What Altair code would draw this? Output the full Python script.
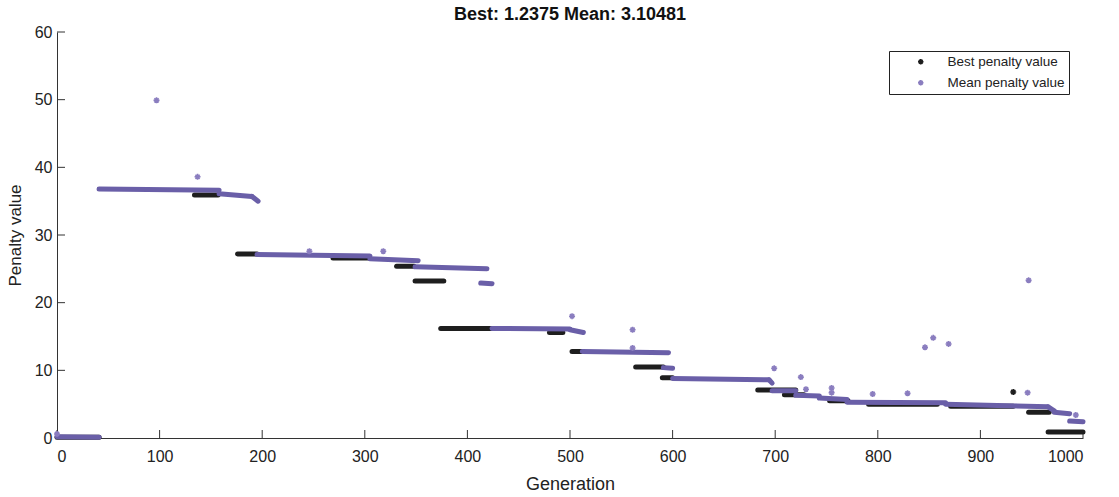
import altair as alt
import pandas as pd

# ---- data ----
best_start = [0, 134, 176, 269, 331, 349, 374, 480, 502, 564, 590, 683, 709, 753, 791, 871, 947, 966]
best_end   = [41, 157, 195, 304, 348, 377, 423, 493, 512, 591, 600, 720, 728, 771, 858, 932, 967, 1000]
best_val   = [0.1, 35.9, 27.2, 26.6, 25.4, 23.2, 16.2, 15.6, 12.8, 10.5, 8.9, 7.1, 6.4, 5.5, 5.0, 4.7, 3.8, 0.9]

mean_start = [0, 41, 158, 190, 195, 305, 349, 413, 424, 500, 512, 591, 600, 694, 697, 720, 743, 770, 866, 966, 972, 987]
mean_end   = [41, 158, 190, 196, 305, 352, 419, 424, 500, 513, 596, 600, 694, 697, 720, 743, 770, 866, 966, 972, 987, 1000]
mean_v0    = [0.2, 36.8, 36.1, 35.7, 27.1, 26.5, 25.3, 22.9, 16.2, 16.0, 12.8, 10.4, 8.8, 8.6, 7.0, 6.3, 5.9, 5.3, 5.0, 4.6, 3.8, 2.5]
mean_v1    = [0.1, 36.6, 35.7, 35.0, 26.9, 26.2, 25.0, 22.8, 16.1, 15.6, 12.6, 10.3, 8.6, 8.1, 7.0, 6.2, 5.7, 5.2, 4.6, 4.0, 3.6, 2.4]

mean_pt_gen = [0, 97, 137, 246, 318, 502, 561, 561, 699, 725, 730, 755, 755, 795, 829, 846, 854, 869, 946, 947, 993]
mean_pt_val = [0.6, 49.9, 38.6, 27.6, 27.6, 18.0, 16.0, 13.3, 10.3, 9.0, 7.2, 7.4, 6.7, 6.5, 6.6, 13.4, 14.8, 13.9, 6.7, 23.3, 3.4]
best_pt_gen = [932]
best_pt_val = [6.8]

x_ticks = [0, 100, 200, 300, 400, 500, 600, 700, 800, 900, 1000]
y_ticks = [0, 10, 20, 30, 40, 50, 60]

TITLE = "Best: 1.2375 Mean: 3.10481"
BEST_LABEL = "Best penalty value"
MEAN_LABEL = "Mean penalty value"

# ---- styling ----
FONT = "Liberation Sans"
BEST_COLOR = "#1e1e1e"
MEAN_COLOR = "#6a5fa8"
MEAN_PT_COLOR = "#8a7dbf"
AXIS_COLOR = "#333333"
W, H = 1026, 406
ASTERISK = "M-1,0L1,0M0,-1L0,1M-0.7,-0.7L0.7,0.7M-0.7,0.7L0.7,-0.7"

xscale = alt.Scale(domain=[0, 1000], nice=False, zero=False)
yscale = alt.Scale(domain=[0, 60], nice=False, zero=False)
xaxis = alt.Axis(values=x_ticks, format="d", tickSize=0, grid=False, domainColor=AXIS_COLOR,
                 labelFont=FONT, labelFontSize=16, labelColor="#222", labelPadding=10,
                 title="Generation", titleFont=FONT, titleFontSize=18, titleFontWeight="normal",
                 titleColor="#222", titleY=46, titleBaseline="middle")
yaxis = alt.Axis(values=y_ticks, format="d", tickSize=0, grid=False, domainColor=AXIS_COLOR,
                 labelFont=FONT, labelFontSize=16, labelColor="#222", labelPadding=5,
                 title="Penalty value", titleFont=FONT, titleFontSize=17, titleFontWeight="normal",
                 titleColor="#222", titleX=-42, titleBaseline="middle")

X = lambda f: alt.X(f, type="quantitative", scale=xscale, axis=xaxis)
Y = lambda f: alt.Y(f, type="quantitative", scale=yscale, axis=yaxis)

best_df = pd.DataFrame({"x": best_start, "x2": best_end, "y": best_val})
mean_df = pd.DataFrame({"x": mean_start, "x2": mean_end, "y": mean_v0, "y2": mean_v1})
pts_df = pd.DataFrame({
    "x": best_pt_gen + mean_pt_gen,
    "y": best_pt_val + mean_pt_val,
    "series": [BEST_LABEL] * len(best_pt_gen) + [MEAN_LABEL] * len(mean_pt_gen),
})
xt_df = pd.DataFrame({"x": x_ticks})
yt_df = pd.DataFrame({"y": y_ticks})
title_df = pd.DataFrame({"t": [TITLE]})

best_layer = alt.Chart(best_df).mark_rule(strokeWidth=5, strokeCap="round", color=BEST_COLOR).encode(
    x=X("x"), x2="x2", y=Y("y"))
mean_layer = alt.Chart(mean_df).mark_rule(strokeWidth=5, strokeCap="round", color=MEAN_COLOR).encode(
    x=X("x"), x2="x2", y=Y("y"), y2="y2")
pts_layer = alt.Chart(pts_df).mark_point(shape=ASTERISK, filled=False, strokeWidth=1.6, size=36, opacity=1).encode(
    x=X("x"), y=Y("y"),
    color=alt.Color("series:N",
                    scale=alt.Scale(domain=[BEST_LABEL, MEAN_LABEL], range=[BEST_COLOR, MEAN_PT_COLOR]),
                    legend=alt.Legend(title=None, orient="none", legendX=832, legendY=19,
                                      strokeColor="#222", fillColor="white", padding=4,
                                      symbolType=ASTERISK, symbolSize=30, symbolStrokeWidth=1.6,
                                      symbolOffset=21, labelOffset=20, rowPadding=6,
                                      labelFont=FONT, labelFontSize=13.5, labelColor="#222")))
xtick_layer = alt.Chart(xt_df).mark_rule(color=AXIS_COLOR, strokeWidth=1).encode(
    x=X("x"), y=alt.value(H), y2=alt.value(H - 8))
ytick_layer = alt.Chart(yt_df).mark_rule(color=AXIS_COLOR, strokeWidth=1).encode(
    y=Y("y"), x=alt.value(0), x2=alt.value(8))
title_layer = alt.Chart(title_df).mark_text(
    font=FONT, fontSize=18, fontWeight="bold", color="#111", align="center", baseline="alphabetic"
).encode(text="t:N", x=alt.value(W / 2), y=alt.value(-12))

chart = alt.layer(xtick_layer, ytick_layer, best_layer, mean_layer, pts_layer, title_layer).properties(
    width=W, height=H,
    autosize=alt.AutoSizeParams(type="none"),
    padding={"left": 57, "top": 32, "right": 36, "bottom": 59},
    background="white",
).configure_view(stroke=None)

chart.save("out.html", embed_options={"renderer": "svg", "actions": False})
